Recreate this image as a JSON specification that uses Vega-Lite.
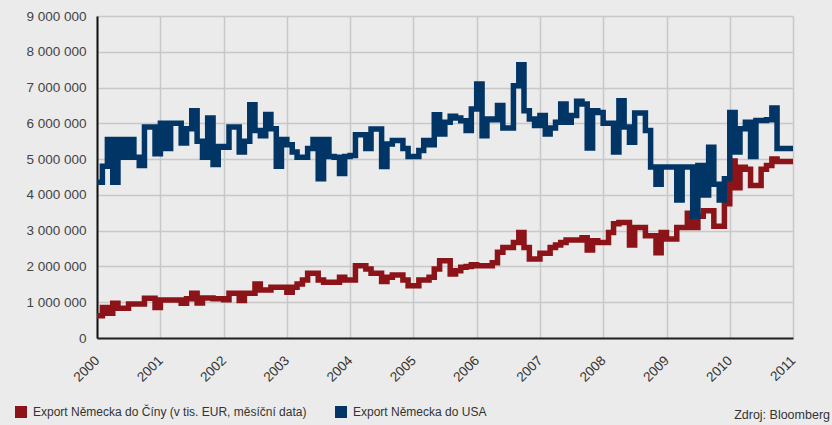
{
  "$schema": "https://vega.github.io/schema/vega-lite/v6.json",
  "width": 696,
  "height": 322,
  "autosize": {"type": "none"},
  "padding": {"left": 97, "top": 16, "right": 39, "bottom": 87},
  "background": "#ebebeb",
  "config": {
    "view": {"stroke": null},
    "font": "Liberation Sans"
  },
  "title": {
    "text": "Zdroj: Bloomberg",
    "orient": "bottom",
    "anchor": "end",
    "frame": "group",
    "dx": 37,
    "offset": -9,
    "fontSize": 12.5,
    "fontWeight": "normal",
    "color": "#333333"
  },
  "data": {
    "values": [
      {"d": "2000-01-01", "cn": 620000, "us": 4350000},
      {"d": "2000-02-01", "cn": 850000, "us": 4800000},
      {"d": "2000-03-01", "cn": 690000, "us": 5550000},
      {"d": "2000-04-01", "cn": 970000, "us": 4350000},
      {"d": "2000-05-01", "cn": 830000, "us": 5550000},
      {"d": "2000-06-01", "cn": 830000, "us": 5050000},
      {"d": "2000-07-01", "cn": 950000, "us": 5550000},
      {"d": "2000-08-01", "cn": 950000, "us": 5050000},
      {"d": "2000-09-01", "cn": 950000, "us": 4820000},
      {"d": "2000-10-01", "cn": 1110000, "us": 5900000},
      {"d": "2000-11-01", "cn": 1110000, "us": 5900000},
      {"d": "2000-12-01", "cn": 850000, "us": 5150000},
      {"d": "2001-01-01", "cn": 1060000, "us": 6000000},
      {"d": "2001-02-01", "cn": 1060000, "us": 5300000},
      {"d": "2001-03-01", "cn": 1060000, "us": 6000000},
      {"d": "2001-04-01", "cn": 1060000, "us": 6000000},
      {"d": "2001-05-01", "cn": 970000, "us": 5450000},
      {"d": "2001-06-01", "cn": 1100000, "us": 5850000},
      {"d": "2001-07-01", "cn": 1250000, "us": 6350000},
      {"d": "2001-08-01", "cn": 980000, "us": 5500000},
      {"d": "2001-09-01", "cn": 1120000, "us": 5050000},
      {"d": "2001-10-01", "cn": 1120000, "us": 6150000},
      {"d": "2001-11-01", "cn": 1100000, "us": 4850000},
      {"d": "2001-12-01", "cn": 1100000, "us": 5350000},
      {"d": "2002-01-01", "cn": 1070000, "us": 5330000},
      {"d": "2002-02-01", "cn": 1250000, "us": 5900000},
      {"d": "2002-03-01", "cn": 1250000, "us": 5900000},
      {"d": "2002-04-01", "cn": 1050000, "us": 5200000},
      {"d": "2002-05-01", "cn": 1250000, "us": 5500000},
      {"d": "2002-06-01", "cn": 1250000, "us": 6520000},
      {"d": "2002-07-01", "cn": 1510000, "us": 5800000},
      {"d": "2002-08-01", "cn": 1340000, "us": 5650000},
      {"d": "2002-09-01", "cn": 1340000, "us": 6250000},
      {"d": "2002-10-01", "cn": 1420000, "us": 5850000},
      {"d": "2002-11-01", "cn": 1420000, "us": 4800000},
      {"d": "2002-12-01", "cn": 1420000, "us": 5550000},
      {"d": "2003-01-01", "cn": 1280000, "us": 5400000},
      {"d": "2003-02-01", "cn": 1420000, "us": 5200000},
      {"d": "2003-03-01", "cn": 1510000, "us": 5050000},
      {"d": "2003-04-01", "cn": 1620000, "us": 5050000},
      {"d": "2003-05-01", "cn": 1810000, "us": 5300000},
      {"d": "2003-06-01", "cn": 1810000, "us": 5550000},
      {"d": "2003-07-01", "cn": 1620000, "us": 4450000},
      {"d": "2003-08-01", "cn": 1560000, "us": 5550000},
      {"d": "2003-09-01", "cn": 1560000, "us": 5070000},
      {"d": "2003-10-01", "cn": 1560000, "us": 5050000},
      {"d": "2003-11-01", "cn": 1700000, "us": 4600000},
      {"d": "2003-12-01", "cn": 1620000, "us": 5070000},
      {"d": "2004-01-01", "cn": 1620000, "us": 5100000},
      {"d": "2004-02-01", "cn": 2020000, "us": 5680000},
      {"d": "2004-03-01", "cn": 2020000, "us": 5680000},
      {"d": "2004-04-01", "cn": 1930000, "us": 5300000},
      {"d": "2004-05-01", "cn": 1810000, "us": 5840000},
      {"d": "2004-06-01", "cn": 1810000, "us": 5840000},
      {"d": "2004-07-01", "cn": 1580000, "us": 4790000},
      {"d": "2004-08-01", "cn": 1700000, "us": 5420000},
      {"d": "2004-09-01", "cn": 1760000, "us": 5520000},
      {"d": "2004-10-01", "cn": 1760000, "us": 5520000},
      {"d": "2004-11-01", "cn": 1620000, "us": 5300000},
      {"d": "2004-12-01", "cn": 1460000, "us": 5070000},
      {"d": "2005-01-01", "cn": 1460000, "us": 5070000},
      {"d": "2005-02-01", "cn": 1620000, "us": 5240000},
      {"d": "2005-03-01", "cn": 1620000, "us": 5520000},
      {"d": "2005-04-01", "cn": 1700000, "us": 5400000},
      {"d": "2005-05-01", "cn": 1930000, "us": 6240000},
      {"d": "2005-06-01", "cn": 2160000, "us": 5700000},
      {"d": "2005-07-01", "cn": 2160000, "us": 6030000},
      {"d": "2005-08-01", "cn": 1790000, "us": 6200000},
      {"d": "2005-09-01", "cn": 1880000, "us": 6150000},
      {"d": "2005-10-01", "cn": 1980000, "us": 6070000},
      {"d": "2005-11-01", "cn": 2000000, "us": 5800000},
      {"d": "2005-12-01", "cn": 2050000, "us": 6400000},
      {"d": "2006-01-01", "cn": 2020000, "us": 7100000},
      {"d": "2006-02-01", "cn": 2020000, "us": 5650000},
      {"d": "2006-03-01", "cn": 2020000, "us": 6120000},
      {"d": "2006-04-01", "cn": 2100000, "us": 6100000},
      {"d": "2006-05-01", "cn": 2400000, "us": 6500000},
      {"d": "2006-06-01", "cn": 2530000, "us": 5870000},
      {"d": "2006-07-01", "cn": 2530000, "us": 5870000},
      {"d": "2006-08-01", "cn": 2670000, "us": 7050000},
      {"d": "2006-09-01", "cn": 2950000, "us": 7640000},
      {"d": "2006-10-01", "cn": 2530000, "us": 6350000},
      {"d": "2006-11-01", "cn": 2210000, "us": 6120000},
      {"d": "2006-12-01", "cn": 2210000, "us": 5940000},
      {"d": "2007-01-01", "cn": 2370000, "us": 6220000},
      {"d": "2007-02-01", "cn": 2370000, "us": 5700000},
      {"d": "2007-03-01", "cn": 2530000, "us": 5870000},
      {"d": "2007-04-01", "cn": 2600000, "us": 6030000},
      {"d": "2007-05-01", "cn": 2670000, "us": 6540000},
      {"d": "2007-06-01", "cn": 2740000, "us": 6030000},
      {"d": "2007-07-01", "cn": 2740000, "us": 6220000},
      {"d": "2007-08-01", "cn": 2740000, "us": 6620000},
      {"d": "2007-09-01", "cn": 2800000, "us": 6540000},
      {"d": "2007-10-01", "cn": 2460000, "us": 5310000},
      {"d": "2007-11-01", "cn": 2720000, "us": 6350000},
      {"d": "2007-12-01", "cn": 2670000, "us": 6300000},
      {"d": "2008-01-01", "cn": 2670000, "us": 6000000},
      {"d": "2008-02-01", "cn": 2950000, "us": 6000000},
      {"d": "2008-03-01", "cn": 3190000, "us": 5200000},
      {"d": "2008-04-01", "cn": 3230000, "us": 6630000},
      {"d": "2008-05-01", "cn": 3230000, "us": 5900000},
      {"d": "2008-06-01", "cn": 2600000, "us": 5470000},
      {"d": "2008-07-01", "cn": 3090000, "us": 6290000},
      {"d": "2008-08-01", "cn": 3090000, "us": 6290000},
      {"d": "2008-09-01", "cn": 2860000, "us": 5800000},
      {"d": "2008-10-01", "cn": 2860000, "us": 4780000},
      {"d": "2008-11-01", "cn": 2380000, "us": 4300000},
      {"d": "2008-12-01", "cn": 2950000, "us": 4780000},
      {"d": "2009-01-01", "cn": 2770000, "us": 4780000},
      {"d": "2009-02-01", "cn": 2770000, "us": 4780000},
      {"d": "2009-03-01", "cn": 3090000, "us": 3860000},
      {"d": "2009-04-01", "cn": 3090000, "us": 4780000},
      {"d": "2009-05-01", "cn": 3490000, "us": 4780000},
      {"d": "2009-06-01", "cn": 3090000, "us": 3400000},
      {"d": "2009-07-01", "cn": 3400000, "us": 4820000},
      {"d": "2009-08-01", "cn": 3560000, "us": 4000000},
      {"d": "2009-09-01", "cn": 3560000, "us": 5330000},
      {"d": "2009-10-01", "cn": 3120000, "us": 4300000},
      {"d": "2009-11-01", "cn": 3120000, "us": 3860000},
      {"d": "2009-12-01", "cn": 3750000, "us": 4450000},
      {"d": "2010-01-01", "cn": 4950000, "us": 6300000},
      {"d": "2010-02-01", "cn": 4200000, "us": 5200000},
      {"d": "2010-03-01", "cn": 4770000, "us": 5850000},
      {"d": "2010-04-01", "cn": 4720000, "us": 6030000},
      {"d": "2010-05-01", "cn": 4260000, "us": 5070000},
      {"d": "2010-06-01", "cn": 4260000, "us": 6080000},
      {"d": "2010-07-01", "cn": 4720000, "us": 6080000},
      {"d": "2010-08-01", "cn": 4820000, "us": 6100000},
      {"d": "2010-09-01", "cn": 5000000, "us": 6430000},
      {"d": "2010-10-01", "cn": 4930000, "us": 5300000},
      {"d": "2010-11-01", "cn": 4930000, "us": 5300000},
      {"d": "2010-12-01", "cn": 4930000, "us": 5300000},
      {"d": "2011-01-01", "cn": 4930000, "us": 5300000}
    ]
  },
  "transform": [{"fold": ["cn", "us"], "as": ["s", "v"]}],
  "mark": {"type": "line", "interpolate": "step-after", "strokeWidth": 5.5, "strokeJoin": "miter", "strokeCap": "butt"},
  "encoding": {
    "x": {
      "field": "d",
      "type": "temporal",
      "scale": {"type": "utc", "domain": [{"year": 2000, "month": 1, "date": 1, "utc": true}, {"year": 2011, "month": 1, "date": 1, "utc": true}]},
      "axis": {
        "title": null,
        "format": "%Y",
        "formatType": "utc",
        "tickCount": {"interval": "year", "step": 1},
        "labelAngle": -45,
        "labelAlign": "right",
        "labelBaseline": "middle",
        "labelPadding": 20,
        "labelFontSize": 13.5,
        "labelColor": "#333333",
        "ticks": false,
        "tickSize": 0,
        "domainColor": "#222222",
        "domainWidth": 2,
        "grid": true,
        "gridColor": "#c8c8c8",
        "gridWidth": 1.5,
        "labelFlush": false,
        "labelOverlap": false
      }
    },
    "y": {
      "field": "v",
      "type": "quantitative",
      "scale": {"domain": [0, 9000000], "nice": false},
      "axis": {
        "title": null,
        "values": [0, 1000000, 2000000, 3000000, 4000000, 5000000, 6000000, 7000000, 8000000, 9000000],
        "labelExpr": "replace(replace(format(datum.value, ','), ',', ' '), ',', ' ')",
        "labelFontSize": 13.5,
        "labelColor": "#444444",
        "labelPadding": 11,
        "ticks": false,
        "tickSize": 0,
        "domainColor": "#111111",
        "domainWidth": 2,
        "grid": true,
        "gridColor": "#c8c8c8",
        "gridWidth": 1.5
      }
    },
    "color": {
      "field": "s",
      "type": "nominal",
      "scale": {"domain": ["cn", "us"], "range": ["#8c1419", "#003566"]},
      "legend": {
        "title": null,
        "orient": "none",
        "direction": "horizontal",
        "columns": 2,
        "legendX": -82,
        "legendY": 390,
        "symbolType": "square",
        "symbolSize": 144,
        "symbolStrokeWidth": 0,
        "symbolOpacity": 1,
        "labelFontSize": 12,
        "labelColor": "#333333",
        "labelOffset": 6,
        "labelLimit": 400,
        "columnPadding": 28,
        "labelExpr": "datum.label == 'cn' ? 'Export Německa do Číny (v tis. EUR, měsíční data)' : 'Export Německa do USA'",
        "encode": {
          "symbols": {
            "update": {
              "fill": {"scale": "color", "field": "value"},
              "fillOpacity": {"value": 1},
              "strokeWidth": {"value": 0}
            }
          }
        }
      }
    }
  }
}
